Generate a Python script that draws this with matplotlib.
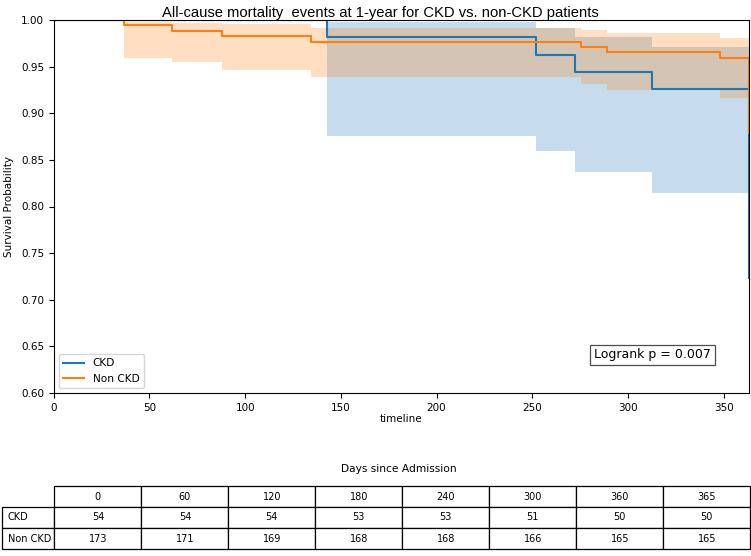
import matplotlib
matplotlib.use("Agg")
import matplotlib.pyplot as plt

# ---- data ----
ckd_time = [0, 143, 252, 272.5, 312.5, 363]
ckd_surv = [1.0, 0.9815, 0.9630, 0.9444, 0.9259, 0.723]
ckd_upper = [1.0, 0.9975, 0.9917, 0.9820, 0.9710, 0.9710]
ckd_lower = [1.0, 0.8760, 0.8600, 0.8370, 0.8140, 0.8140]

non_time = [0, 36.7, 61.6, 87.8, 134.3, 275.3, 289.3, 348, 363]
non_surv = [1.0, 0.9942, 0.9884, 0.9827, 0.9769, 0.9711, 0.9653, 0.9595, 0.879]
non_upper = [1.0, 0.9980, 0.9970, 0.9957, 0.9910, 0.9890, 0.9856, 0.9810, 0.9810]
non_lower = [1.0, 0.9597, 0.9546, 0.9467, 0.9390, 0.9316, 0.9244, 0.9160, 0.9160]

table_days = ["0", "60", "120", "180", "240", "300", "360", "365"]
row_labels = ["CKD", "Non CKD"]
at_risk_ckd = [54, 54, 54, 53, 53, 51, 50, 50]
at_risk_non = [173, 171, 169, 168, 168, 166, 165, 165]

title = "All-cause mortality  events at 1-year for CKD vs. non-CKD patients"

W, H = 751, 556
fig = plt.figure(figsize=(W / 100, H / 100), dpi=100)
ax = fig.add_axes([53.8 / W, (H - 393) / H, (748.5 - 53.8) / W, 373 / H])

blue = "#1f77b4"
orange = "#ff7f0e"

ax.fill_between(ckd_time, ckd_lower, ckd_upper, step="post", color=blue, alpha=0.25, lw=0)
ax.step(ckd_time, ckd_surv, where="post", color=blue, lw=1.5, label="CKD")
ax.fill_between(non_time, non_lower, non_upper, step="post", color=orange, alpha=0.25, lw=0)
ax.step(non_time, non_surv, where="post", color=orange, lw=1.5, label="Non CKD")

ax.set_xlim(0, 363)
ax.set_ylim(0.60, 1.00)
yt = [0.60, 0.65, 0.70, 0.75, 0.80, 0.85, 0.90, 0.95, 1.00]
ax.set_yticks(yt)
ax.set_yticklabels([f"{v:.2f}" for v in yt])
ax.set_xticks([0, 50, 100, 150, 200, 250, 300, 350])
ax.tick_params(labelsize=7.5)
ax.set_xlabel("timeline", fontsize=7.5, labelpad=1)
ax.set_ylabel("Survival Probability", fontsize=7.5, labelpad=5)
ax.set_title(title, fontsize=10.6, family="Liberation Sans", pad=1.5, x=0.47)

ax.legend(loc="lower left", fontsize=7.6)
ax.text(0.862, 0.102, "Logrank p = 0.007", transform=ax.transAxes, ha="center", va="center",
        fontsize=9, bbox=dict(boxstyle="square,pad=0.3", fc="white", ec="0.3", lw=0.9))

# ---- at-risk table ----
fig.text(399 / W, (H - 469) / H, "Days since Admission", ha="center", va="center", fontsize=7.7)
tax = fig.add_axes([0, 0, 1, 1])
tax.axis("off")
cells = [[""] + table_days,
         [row_labels[0]] + [str(v) for v in at_risk_ckd],
         [row_labels[1]] + [str(v) for v in at_risk_non]]
tbl = tax.table(cellText=cells, cellLoc="center",
                colWidths=[52] + [87] * 8,
                bbox=[2.4 / W, 7 / H, (750.3 - 2.4) / W, 63 / H])
tbl.auto_set_font_size(False)
tbl.set_fontsize(7)
for (r, c), cell in tbl.get_celld().items():
    cell.set_linewidth(0.9)
    if c == 0:
        cell.get_text().set_horizontalalignment("left")
    if r == 0 and c == 0:
        cell.set_edgecolor("none")

fig.savefig("out.png", dpi=100)
